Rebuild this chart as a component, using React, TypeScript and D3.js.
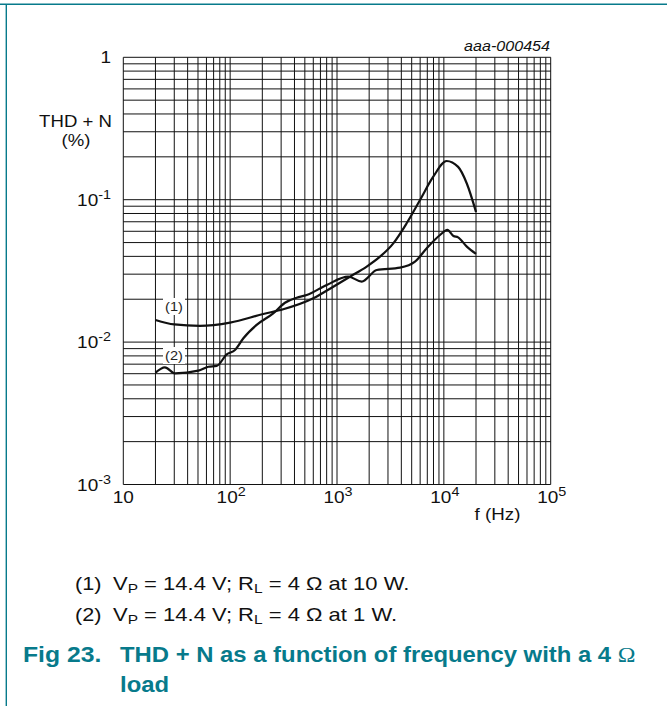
import React from "react";
import * as d3 from "d3";

// curve (1): Vp = 14.4 V, RL = 4 ohm, 10 W
const freq1 = [20, 30, 52, 100, 204, 314, 600, 923, 1324, 1897, 2525, 3365, 4487, 5985, 7962, 10600, 13600, 16400, 20000];
const thd1 = [0.0143, 0.0133, 0.0130, 0.0137, 0.01575, 0.0170, 0.0203, 0.0245, 0.0288, 0.0339, 0.0398, 0.0494, 0.0683, 0.0995, 0.145, 0.187, 0.170, 0.130, 0.082];

// curve (2): Vp = 14.4 V, RL = 4 ohm, 1 W
const freq2 = [20, 24.5, 30.5, 50.4, 62.5, 74.8, 92.9, 111, 133, 177, 253, 326, 419, 520, 801, 1277, 1703, 2354, 3890, 5370, 6915, 9210, 10800, 12300, 13600, 16400, 20000];
const thd2 = [0.0061, 0.00665, 0.00604, 0.0063, 0.00671, 0.0068, 0.0082, 0.0088, 0.01064, 0.0132, 0.0159, 0.0189, 0.0205, 0.0214, 0.0252, 0.0288, 0.0266, 0.0321, 0.0333, 0.0367, 0.0456, 0.0565, 0.0613, 0.0556, 0.0544, 0.0468, 0.0416];

const xDecades = [1, 2, 3, 4, 5]; // 10^1 .. 10^5
const yDecades = [0, -1, -2, -3]; // 10^0 .. 10^-3

const teal = "#077a8b";
const font = "'Liberation Sans', Arial, sans-serif";

const x = d3.scaleLog().domain([10, 1e5]).range([123.3, 550.7]);
const y = d3.scaleLog().domain([1e-3, 1]).range([484.5, 57.3]);

const line = d3
    .line<[number, number]>()
    .x((d) => x(d[0]))
    .y((d) => y(d[1]))
    .curve(d3.curveMonotoneX);

// text that is a little wider than the font, like the scanned figure
const T = ({ x, y, sx = 1.15, anchor = "start", children, ...rest }: any) => (
    <text transform={`translate(${x},${y}) scale(${sx},1)`} textAnchor={anchor} {...rest}>
        {children}
    </text>
);

const Sup = ({ base, exp }) => (
    <>
        {base}
        <tspan fontSize="12.5" dy="-7">
            {exp}
        </tspan>
    </>
);

const Note = ({ yPos, label, watts }) => (
    <g fontSize="18.5" fill="#111">
        <T x={75} y={yPos} sx={1.17}>{label}</T>
        <T x={113} y={yPos} sx={1.19}>
            V<tspan fontSize="13" dy="3">P</tspan>
            <tspan dy="-3"> = 14.4 V; R</tspan>
            <tspan fontSize="13" dy="3">L</tspan>
            <tspan dy="-3"> = 4 Ω at {watts} W.</tspan>
        </T>
    </g>
);

export default function App() {
    const xGrid: number[] = [];
    for (let e = 1; e < 5; e++) for (let m = 1; m < 10; m++) xGrid.push(m * Math.pow(10, e));
    xGrid.push(1e5);
    const yGrid: number[] = [];
    for (let e = -3; e < 0; e++) for (let m = 1; m < 10; m++) yGrid.push(m * Math.pow(10, e));
    yGrid.push(1);

    const [x0, x1] = x.range();
    const [y0, y1] = y.range();

    const series1 = freq1.map((f, i) => [f, thd1[i]] as [number, number]);
    const series2 = freq2.map((f, i) => [f, thd2[i]] as [number, number]);

    return (
        <svg width={667} height={706} style={{ position: "absolute", left: 0, top: 0 }} fontFamily={font}>
            <rect width={667} height={706} fill="#fff" />
            {/* frame */}
            <line x1={0} x2={667} y1={4.3} y2={4.3} stroke={teal} strokeWidth={1.4} />
            <line x1={6.3} x2={6.3} y1={4} y2={706} stroke={teal} strokeWidth={1.4} />

            {/* grid */}
            <g stroke="#111" strokeWidth={1}>
                {xGrid.map((v) => (
                    <line key={"x" + v} x1={x(v)} x2={x(v)} y1={y1} y2={y0} />
                ))}
                {yGrid.map((v) => (
                    <line key={"y" + v} x1={x0} x2={x1} y1={y(v)} y2={y(v)} />
                ))}
            </g>

            {/* curves */}
            <path d={line(series1) || ""} fill="none" stroke="#111" strokeWidth={2.2} strokeLinejoin="round" />
            <path d={line(series2) || ""} fill="none" stroke="#111" strokeWidth={2.2} strokeLinejoin="round" />
            <rect x={163} y={298} width={22} height={17} fill="#fff" />
            <rect x={163} y={347} width={22} height={17} fill="#fff" />
            <T x={174} y={311} sx={1.12} anchor="middle" fontSize="13" fill="#222">(1)</T>
            <T x={174} y={360} sx={1.12} anchor="middle" fontSize="13" fill="#222">(2)</T>

            {/* y tick labels */}
            {yDecades.map((e) => (
                <T key={"yl" + e} x={111} y={y(Math.pow(10, e)) + 6} anchor="end" fontSize="16.5" fill="#111">
                    {e === 0 ? "1" : <Sup base="10" exp={String(e)} />}
                </T>
            ))}
            <T x={75.5} y={126.5} sx={1.14} anchor="middle" fontSize="16.3" fill="#111">THD + N</T>
            <T x={76} y={145.5} sx={1.14} anchor="middle" fontSize="16.3" fill="#111">(%)</T>

            {/* x tick labels */}
            {xDecades.map((e) => (
                <T key={"xl" + e} x={x(Math.pow(10, e)) + (e === 1 ? 0 : 1)} y={502.5} anchor="middle" fontSize="16.5" fill="#111">
                    {e === 1 ? "10" : <Sup base="10" exp={String(e)} />}
                </T>
            ))}
            <T x={497.5} y={519.5} anchor="middle" fontSize="16.3" fill="#111">f (Hz)</T>

            <T x={550} y={51} anchor="end" fontSize="14" fontStyle="italic" fill="#111">aaa-000454</T>

            {/* notes */}
            <Note yPos={590} label="(1)" watts="10" />
            <Note yPos={621} label="(2)" watts="1" />

            {/* caption */}
            <g fontSize="21.5" fontWeight="bold" fill={teal}>
                <T x={23} y={662} sx={1.15}>Fig 23.</T>
                <T x={120} y={662} sx={1.11}>
                    THD + N as a function of frequency with a 4{" "}
                    <tspan fontFamily="'Liberation Serif', 'Times New Roman', serif" fontWeight="normal">Ω</tspan>
                </T>
                <T x={120} y={692} sx={1.11}>load</T>
            </g>
        </svg>
    );
}
